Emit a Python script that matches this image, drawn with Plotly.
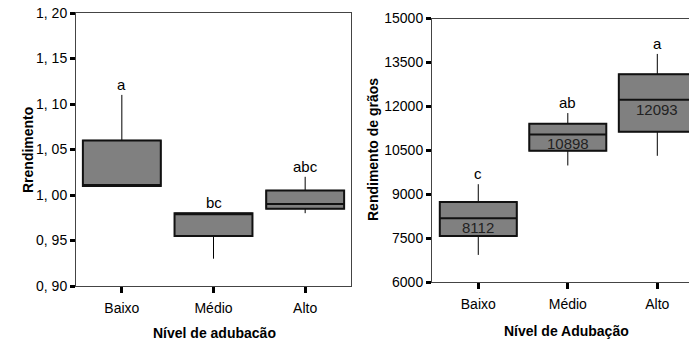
import plotly.graph_objects as go

# ---------------- data ----------------
categories = ["Baixo", "Médio", "Alto"]

# Left panel: Rrendimento
left_q1 = [1.010, 0.955, 0.985]
left_median = [1.010, 0.980, 0.990]
left_q3 = [1.060, 0.980, 1.005]
left_low = [1.010, 0.930, 0.980]
left_high = [1.110, 0.980, 1.020]
left_letters = ["a", "bc", "abc"]
left_yticks = [0.90, 0.95, 1.00, 1.05, 1.10, 1.15, 1.20]
left_yticktext = ["0, 90", "0, 95", "1, 00", "1, 05", "1, 10", "1, 15", "1, 20"]

# Right panel: Rendimento de grãos
right_q1 = [7575, 10485, 11135]
right_median = [8180, 11040, 12225]
right_q3 = [8735, 11405, 13095]
right_low = [6925, 9980, 10310]
right_high = [9340, 11770, 13790]
right_letters = ["c", "ab", "a"]
right_means = ["8112", "10898", "12093"]
right_yticks = [6000, 7500, 9000, 10500, 12000, 13500, 15000]
right_yticktext = ["6000", "7500", "9000", "10500", "12000", "13500", "15000"]

W, H = 689, 341
FONT = "Liberation Sans, Arial, sans-serif"
FILL = "#808080"

fig = go.Figure()


def add_boxes(xa, ya, q1, med, q3, lo, hi, width):
    # whiskers (thin)
    fig.add_trace(go.Box(
        x=categories, q1=q1, median=med, q3=q3, lowerfence=lo, upperfence=hi,
        xaxis=xa, yaxis=ya, width=width, whiskerwidth=0, boxpoints=False,
        fillcolor=FILL, line=dict(color="black", width=1),
        showlegend=False, hoverinfo="skip"))
    # boxes (thick outline)
    fig.add_trace(go.Box(
        x=categories, q1=q1, median=med, q3=q3, lowerfence=q1, upperfence=q3,
        xaxis=xa, yaxis=ya, width=width, whiskerwidth=0, boxpoints=False,
        fillcolor=FILL, line=dict(color="#111111", width=2),
        showlegend=False, hoverinfo="skip"))


add_boxes("x", "y", left_q1, left_median, left_q3, left_low, left_high, 0.85)
add_boxes("x2", "y2", right_q1, right_median, right_q3, right_low, right_high, 0.86)

annotations = []
for c, v, t in zip(categories, left_high, left_letters):
    annotations.append(dict(x=c, y=v, xref="x", yref="y", text=t, showarrow=False,
                            xanchor="center", yanchor="bottom", yshift=0,
                            font=dict(family=FONT, size=15, color="black")))
for c, v, t in zip(categories, right_high, right_letters):
    annotations.append(dict(x=c, y=v, xref="x2", yref="y2", text=t, showarrow=False,
                            xanchor="center", yanchor="bottom", yshift=0,
                            font=dict(family=FONT, size=15, color="black")))
for c, v, t in zip(categories, right_median, right_means):
    annotations.append(dict(x=c, y=v, xref="x2", yref="y2", text=t, showarrow=False,
                            xanchor="center", yanchor="top", yshift=1,
                            font=dict(family=FONT, size=15, color="#222222")))

# axis titles
title_font = dict(family=FONT, size=14, color="black")
annotations += [
    dict(x=28 / W, y=1 - 150 / H, xref="paper", yref="paper", text="<b>Rrendimento</b>",
         textangle=-90, showarrow=False, xanchor="center", yanchor="middle", font=title_font),
    dict(x=214 / W, y=1 - 333 / H, xref="paper", yref="paper", text="<b>Nível de adubacão</b>",
         showarrow=False, xanchor="center", yanchor="middle", font=title_font),
    dict(x=373 / W, y=1 - 150 / H, xref="paper", yref="paper", text="<b>Rendimento de grãos</b>",
         textangle=-90, showarrow=False, xanchor="center", yanchor="middle", font=title_font),
    dict(x=566 / W, y=1 - 331 / H, xref="paper", yref="paper", text="<b>Nível de Adubação</b>",
         showarrow=False, xanchor="center", yanchor="middle", font=title_font),
]

axis_common = dict(showgrid=False, zeroline=False, showline=True, linecolor="#444444",
                   linewidth=1, ticks="outside", tickcolor="black", tickwidth=3,
                   automargin=False,
                   tickfont=dict(family=FONT, size=14, color="black"))

fig.update_layout(
    width=W, height=H,
    margin=dict(l=0, r=0, t=0, b=0, pad=0),
    paper_bgcolor="white", plot_bgcolor="white",
    boxmode="overlay",
    showlegend=False,
    font=dict(family=FONT),
    annotations=annotations,
    xaxis=dict(domain=[76 / W, 351 / W], anchor="y", type="category",
               range=[-0.5, 2.5], mirror=True, ticklen=6, ticklabelstandoff=3, **axis_common),
    yaxis=dict(domain=[1 - 286 / H, 1 - 13 / H], anchor="x", range=[0.90, 1.20],
               tickvals=left_yticks, ticktext=left_yticktext, mirror=True, ticklen=5,
               **axis_common),
    xaxis2=dict(domain=[432 / W, 1.0], anchor="y2", type="category",
                range=[-0.517, 2.354], mirror=True, ticklen=6, ticklabelstandoff=3, **axis_common),
    yaxis2=dict(domain=[1 - 282 / H, 1 - 18.5 / H], anchor="x2", range=[6000, 15000],
                tickvals=right_yticks, ticktext=right_yticktext, ticklen=5,
                **axis_common),
)

fig.write_html("out.html", config={"displayModeBar": False},
               post_script="document.body.style.margin='0px';document.body.style.overflow='hidden';")
